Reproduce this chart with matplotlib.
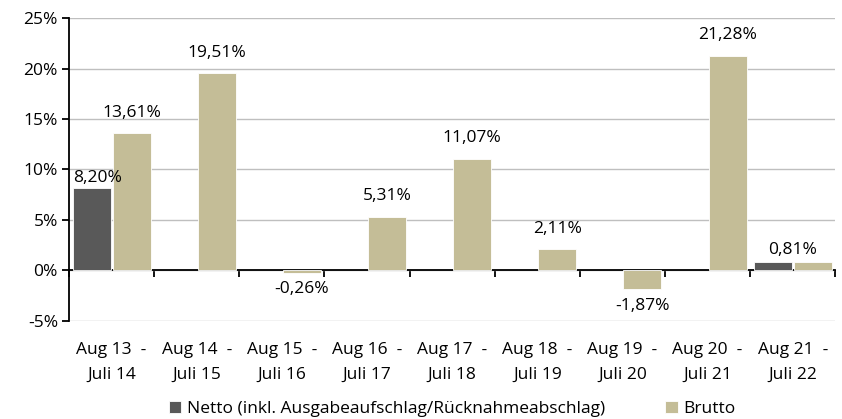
import numpy as np
import matplotlib.pyplot as plt
from matplotlib.transforms import blended_transform_factory

plt.rcParams['font.family'] = ['Open Sans', 'DejaVu Sans']

# periods
categories = ['Aug 13  -\nJuli 14', 'Aug 14  -\nJuli 15', 'Aug 15  -\nJuli 16',
              'Aug 16  -\nJuli 17', 'Aug 17  -\nJuli 18', 'Aug 18  -\nJuli 19',
              'Aug 19  -\nJuli 20', 'Aug 20  -\nJuli 21', 'Aug 21  -\nJuli 22']
netto = [8.20, np.nan, np.nan, np.nan, np.nan, np.nan, np.nan, np.nan, 0.81]
brutto = [13.61, 19.51, -0.26, 5.31, 11.07, 2.11, -1.87, 21.28, 0.81]
yticks = [-5, 0, 5, 10, 15, 20, 25]

c_netto = '#595959'
c_brutto = '#C4BD97'
fs = 12.5

def fmt(v):
    return f'{v:.2f}%'.replace('.', ',')

fig = plt.figure(figsize=(8.42, 4.19), dpi=100)
ax = fig.add_axes([0.082, 0.234, 0.910, 0.723])

x = np.arange(len(categories))
w = 0.445
ax.bar(x - 0.235, netto, w, color=c_netto, edgecolor='white', linewidth=0.6, label='Netto (inkl. Ausgabeaufschlag/Rücknahmeabschlag)', zorder=3)
ax.bar(x + 0.235, brutto, w, color=c_brutto, edgecolor='white', linewidth=0.6, label='Brutto', zorder=3)

ax.set_xlim(-0.5, len(categories) - 0.5)
ax.set_ylim(-5, 25)
ax.set_yticks(yticks)
ax.set_yticklabels([f'{t}%' for t in yticks], fontsize=fs)
ax.yaxis.grid(True, color='#BFBFBF', linewidth=1)
ax.set_axisbelow(True)

for s in ['top', 'right']:
    ax.spines[s].set_visible(False)
ax.spines['left'].set_linewidth(1.3)
ax.spines['bottom'].set_position(('data', 0))
ax.spines['bottom'].set_linewidth(1.3)
ax.set_xticks(np.arange(len(categories) + 1) - 0.5)
ax.set_xticklabels([])
ax.tick_params(axis='x', length=5, width=1.3, direction='out')
ax.tick_params(axis='y', length=5, width=1.3, direction='out', pad=3)

# value labels
for i in range(len(categories)):
    n, b = netto[i], brutto[i]
    if not np.isnan(n) and abs(n - b) < 1e-9:
        ax.annotate(fmt(b), (x[i], b), xytext=(0, 3), textcoords='offset points',
                    ha='center', va='bottom', fontsize=fs)
        continue
    if not np.isnan(n):
        ax.annotate(fmt(n), (x[i] - 0.235, n), xytext=(4, 1), textcoords='offset points',
                    ha='center', va='bottom', fontsize=fs)
    if b >= 0:
        ax.annotate(fmt(b), (x[i] + 0.235, b), xytext=(0, 9), textcoords='offset points',
                    ha='center', va='bottom', fontsize=fs)
    else:
        ax.annotate(fmt(b), (x[i] + 0.235, b), xytext=(0, -6), textcoords='offset points',
                    ha='center', va='top', fontsize=fs)

# category labels below the plot
tr = blended_transform_factory(ax.transData, ax.transAxes)
for i, lab in enumerate(categories):
    ax.text(x[i], -0.068, lab, transform=tr, ha='center', va='top', fontsize=fs,
            linespacing=1.75)

ax.legend(loc='lower center', bbox_to_anchor=(0.5, -0.37), ncol=2, frameon=False,
          fontsize=fs, handlelength=0.7, handleheight=0.7, handletextpad=0.3,
          columnspacing=3.5)

fig.savefig('out.png', dpi=100)
